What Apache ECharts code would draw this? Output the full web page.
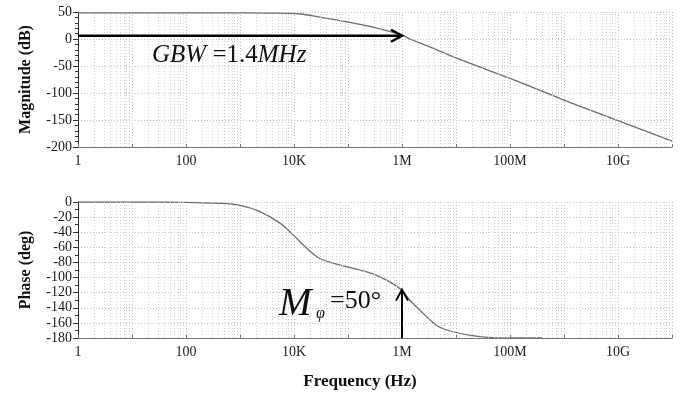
<!DOCTYPE html>
<html>
<head>
<meta charset="utf-8">
<script src="https://cdn.jsdelivr.net/npm/echarts@6/dist/echarts.min.js"></script>
<style>
  html, body { margin: 0; padding: 0; background: #fff; }
  #chart { width: 690px; height: 396px; }
</style>
</head>
<body>
<div id="chart"></div>
<script>
// Bode plot. Frequencies in Hz.
const magFreq = [1, 100, 1e3, 3.6e3, 1.3e4, 3e4, 8.8e4, 2.55e5, 1.04e6, 1.4e6, 3.2e6, 1e7, 1e8, 1e9, 1e10, 1e11];
const magDb = [48.5, 48.5, 48.4, 48, 46.3, 40.7, 32.5, 23.2, 6.5, 0, -14, -35, -73, -113, -151, -189];

const phaseFreq = [1, 30, 100, 430, 1e3, 2.3e3, 5.5e3, 9.6e3, 1.74e4, 3e4, 7.1e4, 1.66e5, 3.9e5, 9.2e5, 1.4e6, 2.15e6, 5e6, 2e7, 8.8e7, 4.1e8];
const phaseDeg = [0, 0, -0.6, -1.8, -4.5, -12.5, -28, -43.5, -61.5, -74.8, -83.4, -90, -99, -114.7, -130, -143.3, -165.8, -176.8, -179.9, -180];

// one label per decade (10^0 .. 10^11), only every other one is shown
const freqTicks = ['1', '', '100', '', '10K', '', '1M', '', '100M', '', '10G', ''];
const magRange = [-200, 50, 50];   // min, max, step
const phaseRange = [-180, 0, 20];

// annotations
const gbwArrow = { fromHz: 1, toHz: 1e6, db: 6 };
const pmArrow = { hz: 1e6, fromDeg: -180, toDeg: -116 };

const serif = '"Liberation Serif", "Times New Roman", serif';
const lg = Math.log10;

// dotted grid lines at 2..9 of every decade
const minorLines = [];
for (let d = 0; d < 11; d++) {
  for (let k = 2; k <= 9; k++) minorLines.push({ xAxis: d + lg(k) });
}

function xAxisOpt(gridIndex) {
  return {
    type: 'value', gridIndex: gridIndex, min: 0, max: 11, interval: 1,
    axisLine: { onZero: false, lineStyle: { color: '#777', width: 1 } },
    axisTick: { inside: true, length: 3, lineStyle: { color: '#777' } },
    axisLabel: {
      formatter: function (v) { return freqTicks[Math.round(v)] || ''; },
      fontFamily: serif, fontSize: 14, color: '#222', margin: 7
    },
    splitLine: { show: true, lineStyle: { type: [1, 2], color: '#c4c4c4' } }
  };
}

function yAxisOpt(gridIndex, range, name, minorSplit) {
  return {
    type: 'value', gridIndex: gridIndex,
    min: range[0], max: range[1], interval: range[2],
    name: name, nameLocation: 'middle', nameGap: 44,
    nameTextStyle: { fontFamily: serif, fontWeight: 'bold', fontSize: 16, color: '#111' },
    axisLine: { show: true, lineStyle: { color: '#333' } },
    axisTick: { show: true, length: 5, lineStyle: { color: '#333' } },
    minorTick: { show: true, splitNumber: minorSplit, length: 3, lineStyle: { color: '#333' } },
    axisLabel: { fontFamily: serif, fontSize: 14, color: '#1a1a1a', margin: 6 },
    splitLine: { show: true, lineStyle: { type: [1, 2], color: '#c4c4c4' } }
  };
}

function gridLines(i) {
  return {
    type: 'line', xAxisIndex: i, yAxisIndex: i, data: [], z: 1, silent: true,
    markLine: {
      silent: true, symbol: 'none', label: { show: false },
      lineStyle: { type: [1, 2], color: '#d2d2d2', width: 1 },
      data: minorLines
    }
  };
}

const chart = echarts.init(document.getElementById('chart'));
chart.setOption({
  animation: false,
  grid: [
    { left: 78, right: 18, top: 12, height: 135 },
    { left: 78, right: 18, top: 202, height: 136 }
  ],
  xAxis: [xAxisOpt(0), xAxisOpt(1)],
  yAxis: [
    yAxisOpt(0, magRange, 'Magnitude (dB)', 5),
    yAxisOpt(1, phaseRange, 'Phase (deg)', 2)
  ],
  series: [
    gridLines(0),
    gridLines(1),
    {
      type: 'line', xAxisIndex: 0, yAxisIndex: 0, z: 3,
      data: magFreq.map(function (f, i) { return [lg(f), magDb[i]]; }),
      smooth: 0.35, showSymbol: false,
      lineStyle: { color: '#6e6e6e', width: 1.3 }
    },
    {
      type: 'line', xAxisIndex: 1, yAxisIndex: 1, z: 3,
      data: phaseFreq.map(function (f, i) { return [lg(f), phaseDeg[i]]; }),
      smooth: 0.35, showSymbol: false,
      lineStyle: { color: '#6e6e6e', width: 1.3 }
    }
  ]
});

function px(grid, f, v) {
  return chart.convertToPixel({ gridIndex: grid }, [lg(f), v]);
}

const g0 = px(0, gbwArrow.fromHz, gbwArrow.db);
const g1 = px(0, gbwArrow.toHz, gbwArrow.db);
const p0 = px(1, pmArrow.hz, pmArrow.fromDeg);
const p1 = px(1, pmArrow.hz, pmArrow.toDeg);
const arrowStyle = { stroke: '#000', lineWidth: 2.5, fill: null };

chart.setOption({
  graphic: [
    { type: 'polyline', z: 10, shape: { points: [g0, g1] }, style: arrowStyle },
    { type: 'polyline', z: 10, shape: { points: [[g1[0] - 11, g1[1] - 6], g1, [g1[0] - 11, g1[1] + 6]] }, style: arrowStyle },
    { type: 'polyline', z: 10, shape: { points: [p0, p1] }, style: { stroke: '#000', lineWidth: 2, fill: null } },
    { type: 'polyline', z: 10, shape: { points: [[p1[0] - 6, p1[1] + 11], p1, [p1[0] + 6, p1[1] + 11]] }, style: { stroke: '#000', lineWidth: 2, fill: null } },
    {
      type: 'text', z: 10, x: 152, y: 55,
      style: {
        text: '{i|GBW }{n|=1.4}{i|MHz}',
        align: 'left', verticalAlign: 'middle',
        rich: {
          i: { fontFamily: serif, fontStyle: 'italic', fontSize: 25, fill: '#111' },
          n: { fontFamily: serif, fontSize: 25, fill: '#111' }
        }
      }
    },
    {
      type: 'text', z: 10, x: 279, y: 305,
      style: { text: 'M', fontFamily: serif, fontStyle: 'italic', fontSize: 39, fill: '#111', align: 'left', verticalAlign: 'middle' }
    },
    {
      type: 'text', z: 10, x: 316, y: 314,
      style: { text: 'φ', fontFamily: serif, fontStyle: 'italic', fontSize: 16, fill: '#111', align: 'left', verticalAlign: 'middle' }
    },
    {
      type: 'text', z: 10, x: 330, y: 301,
      style: { text: '=50°', fontFamily: serif, fontSize: 26, fill: '#111', align: 'left', verticalAlign: 'middle' }
    },
    {
      type: 'text', z: 10, x: 360, y: 382,
      style: { text: 'Frequency (Hz)', fontFamily: serif, fontWeight: 'bold', fontSize: 17, fill: '#111', align: 'center', verticalAlign: 'middle' }
    }
  ]
});
</script>
</body>
</html>
